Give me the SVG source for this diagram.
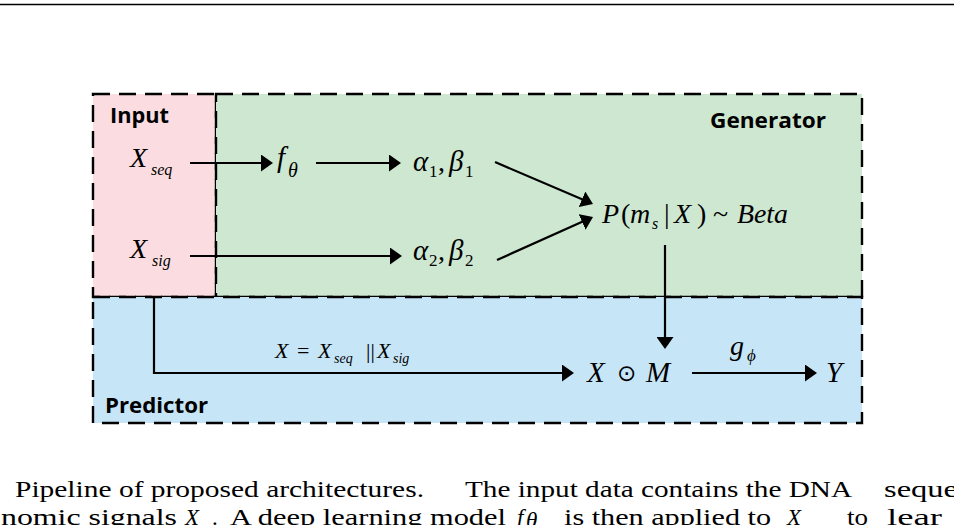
<svg xmlns="http://www.w3.org/2000/svg" width="954" height="525" viewBox="0 0 954 525">
<style>
.box{stroke:#000;stroke-width:2.4;stroke-dasharray:17 9}
.lbl{font-family:"Open Sans","Liberation Sans",sans-serif;font-weight:700;font-size:22px;fill:#000}
.m{font-family:"Liberation Serif","Times New Roman",serif;font-style:italic;fill:#000}
.u{font-style:normal}
.cap{font-family:"Liberation Serif","Times New Roman",serif;font-size:23px;fill:#000}
.i{font-style:italic}
.c{fill:none;stroke:#000;stroke-width:2.2}
</style>
<defs>
<marker id="ah" markerUnits="userSpaceOnUse" markerWidth="13" markerHeight="17" refX="2" refY="8.5" orient="auto">
<path d="M0,0 L12,8.5 L0,17 z" fill="#000"/>
</marker>
</defs>
<rect width="954" height="525" fill="#fff"/>
<line x1="0" y1="4.5" x2="954" y2="4.5" stroke="#000" stroke-width="1.5"/>

<g id="input">
<rect class="box" x="93" y="94" width="123" height="203" fill="#fbdde1"/>
<text class="lbl" x="110" y="123" textLength="59" lengthAdjust="spacingAndGlyphs">Input</text>
<text class="m" x="130" y="167" font-size="28">X</text>
<text class="m" x="151" y="175" font-size="16">seq</text>
<text class="m" x="130" y="258" font-size="28">X</text>
<text class="m" x="152" y="266" font-size="16">sig</text>
</g>

<g id="generator">
<rect class="box" x="216" y="94" width="646" height="203" fill="#cde7d1"/>
<text class="lbl" x="710" y="128" textLength="116" lengthAdjust="spacingAndGlyphs">Generator</text>
<g id="f-theta">
<text class="m" x="277" y="167" font-size="29">f</text>
<text class="m" x="288" y="177" font-size="20">θ</text>
</g>
<g id="ab1">
<text class="m" x="413" y="171" font-size="29">α</text>
<text class="m u" x="429" y="177" font-size="17">1</text>
<text class="m u" x="438" y="171" font-size="28">,</text>
<text class="m" x="449" y="171" font-size="29">β</text>
<text class="m u" x="465" y="177" font-size="17">1</text>
</g>
<g id="ab2">
<text class="m" x="413" y="260" font-size="29">α</text>
<text class="m u" x="429" y="266" font-size="17">2</text>
<text class="m u" x="438" y="260" font-size="28">,</text>
<text class="m" x="449" y="260" font-size="29">β</text>
<text class="m u" x="465" y="266" font-size="17">2</text>
</g>
<g id="pm">
<text class="m" x="602" y="223" font-size="28">P</text>
<text class="m u" x="621" y="223" font-size="28">(</text>
<text class="m" x="630" y="223" font-size="28">m</text>
<text class="m" x="652" y="229" font-size="16">s</text>
<text class="m u" x="664" y="223" font-size="28">|</text>
<text class="m" x="674" y="223" font-size="28">X</text>
<text class="m u" x="697" y="223" font-size="28">)</text>
<text class="m u" x="713" y="223" font-size="28">~</text>
<text class="m" x="737" y="223" font-size="28" textLength="51" lengthAdjust="spacingAndGlyphs">Beta</text>
</g>
</g>

<g id="predictor">
<rect class="box" x="93" y="297" width="769" height="126" fill="#c6e5f6"/>
<text class="lbl" x="105" y="413" textLength="103" lengthAdjust="spacingAndGlyphs">Predictor</text>
<g id="concat">
<text class="m" x="275" y="358" font-size="22">X</text>
<text class="m u" x="297" y="358" font-size="22">=</text>
<text class="m" x="318" y="358" font-size="22">X</text>
<text class="m" x="334" y="363" font-size="14">seq</text>
<text class="m u" x="366" y="358" font-size="22">||</text>
<text class="m" x="377" y="358" font-size="22">X</text>
<text class="m" x="393" y="363" font-size="14">sig</text>
</g>
<g id="xm">
<text class="m" x="587" y="382" font-size="29">X</text>
<text x="617" y="381" font-size="23" font-family="DejaVu Sans,sans-serif" fill="#000">⊙</text>
<text class="m" x="646" y="382" font-size="29">M</text>
</g>
<g id="g-phi">
<text class="m" x="730" y="355" font-size="28">g</text>
<text class="m" x="747" y="361" font-size="17">ϕ</text>
</g>
<g id="y">
<text class="m" x="826" y="382" font-size="29">Y</text>
</g>
</g>

<g id="connectors">
<line class="c" x1="190" y1="163" x2="263" y2="163" marker-end="url(#ah)"/>
<line class="c" x1="316" y1="163" x2="391" y2="163" marker-end="url(#ah)"/>
<line class="c" x1="190" y1="256" x2="392" y2="256" marker-end="url(#ah)"/>
<line class="c" x1="495" y1="162" x2="583.8" y2="200.1" marker-end="url(#ah)"/>
<line class="c" x1="497" y1="260" x2="583.9" y2="221.1" marker-end="url(#ah)"/>
<line class="c" x1="665" y1="245" x2="665" y2="339" marker-end="url(#ah)"/>
<path class="c" d="M154,297 V373 H564" marker-end="url(#ah)"/>
<line class="c" x1="692" y1="373" x2="807" y2="373" marker-end="url(#ah)"/>
</g>

<g id="caption">
<text class="cap" x="15" y="497" textLength="409" lengthAdjust="spacingAndGlyphs">Pipeline of proposed architectures.</text>
<text class="cap" x="465" y="497" textLength="387" lengthAdjust="spacingAndGlyphs">The input data contains the DNA</text>
<text class="cap" x="884" y="497" textLength="74" lengthAdjust="spacingAndGlyphs">seque</text>
<text class="cap" x="1" y="525" textLength="176" lengthAdjust="spacingAndGlyphs">nomic signals</text>
<text class="cap i" x="185" y="525">X</text>
<text class="cap" x="212" y="525">.</text>
<text class="cap" x="230" y="525" textLength="276" lengthAdjust="spacingAndGlyphs">A deep learning model</text>
<text class="cap i" x="517" y="525">f</text>
<text class="cap i" x="526" y="528" font-size="15">θ</text>
<text class="cap" x="564" y="525" textLength="207" lengthAdjust="spacingAndGlyphs">is then applied to</text>
<text class="cap i" x="787" y="525">X</text>
<text class="cap" x="847" y="525" textLength="21" lengthAdjust="spacingAndGlyphs">to</text>
<text class="cap" x="887" y="525" textLength="55" lengthAdjust="spacingAndGlyphs">lear</text>
</g>
</svg>
